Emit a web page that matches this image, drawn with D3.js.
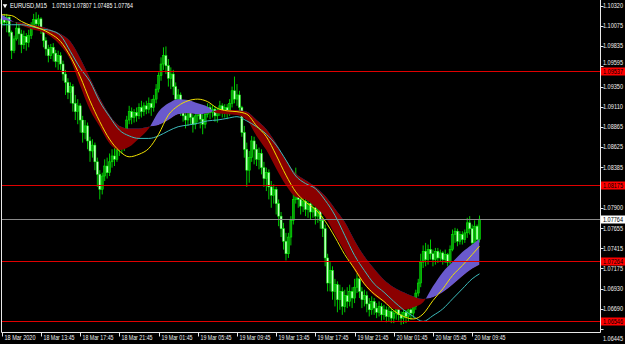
<!DOCTYPE html>
<html>
<head>
<meta charset="utf-8">
<script src="https://cdn.jsdelivr.net/npm/d3@7"></script>
<style>
  body { margin: 0; background: #000; }
  svg { display: block; font-family: "Liberation Sans", Arial, sans-serif; }
</style>
</head>
<body>
<svg id="chart" width="625" height="344"></svg>
<script>
// ---- data (EURUSD M15, 18 Mar 09:45 -> 20 Mar 10:30) ----
const symbolName = "EURUSD,M15"
const lastOHLC = "1.07519 1.07807 1.07485 1.07764"
const firstOpen = 1.1010
const closes = [
  1.1016,1.1012,1.1018,1.1000,1.0978,1.0992,1.1005,1.0998,1.0985,1.0995,1.0988,1.0996,1.1008,1.1015,1.1010,1.1016,
  1.1002,1.0990,1.0980,1.0972,1.0982,1.0975,1.0965,1.0972,1.0962,
  1.0950,1.0940,1.0928,1.0935,1.0915,1.0905,1.0912,1.0895,1.0880,1.0888,1.0870,1.0858,1.0865,1.0845,1.0830,1.0812,
  1.0828,1.0840,1.0832,1.0845,1.0852,1.0848,1.0860,1.0868,1.0862,1.0878,
  1.0895,1.0905,1.0898,1.0904,1.0900,1.0910,1.0905,1.0912,1.0908,1.0915,1.0910,1.0920,1.0932,
  1.0948,1.0962,1.0972,1.0960,1.0945,1.0950,1.0935,1.0920,1.0925,
  1.0912,1.0900,1.0895,1.0905,1.0898,1.0890,1.0900,1.0906,1.0896,1.0890,1.0902,1.0910,1.0904,1.0908,1.0900,1.0906,1.0912,1.0904,1.0910,1.0905,
  1.0915,1.0930,1.0920,1.0925,1.0910,
  1.0880,1.0860,1.0835,1.0850,1.0870,1.0860,1.0848,1.0855,1.0838,1.0825,1.0832,1.0815,1.0805,1.0812,1.0795,1.0780,
  1.0765,1.0750,1.0735,1.0755,1.0775,1.0800,1.0820,1.0800,
  1.0792,1.0798,1.0788,1.0795,1.0785,1.0790,1.0780,1.0788,1.0775,1.0765,
  1.0730,1.0700,1.0715,1.0690,1.0698,1.0680,1.0690,1.0672,1.0685,
  1.0678,1.0690,1.0682,1.0695,1.0705,1.0690,1.0680,1.0685,1.0675,1.0668,1.0678,1.0670,1.0665,
  1.0672,1.0662,1.0668,1.0660,1.0666,1.0658,1.0664,1.0670,1.0662,1.0658,1.0665,1.0660,1.0668,1.0664,1.0672,
  1.0688,1.0700,1.0725,1.0738,1.0728,1.0740,1.0735,
  1.0728,1.0738,1.0730,1.0736,1.0728,1.0734,1.0725,1.0740,
  1.0758,1.0762,1.0750,1.0758,1.0752,1.0760,1.0772,1.0765,1.0748,1.0768,1.07519,1.07764
]
const highs = [
  1.1020,1.1022,1.1022,1.1019,1.1002,1.0996,1.1012,1.1010,1.1003,1.1002,1.0999,1.1003,1.1012,1.1022,1.1024,1.1021,
  1.1018,1.1005,1.0994,1.0985,1.0986,1.0987,1.0979,1.0978,1.0976,
  1.0966,1.0955,1.0945,1.0940,1.0938,1.0925,1.0920,1.0915,1.0900,1.0895,1.0892,1.0875,1.0872,1.0868,1.0850,1.0835,
  1.0832,1.0848,1.0850,1.0855,1.0860,1.0862,1.0866,1.0874,1.0875,1.0882,
  1.0900,1.0912,1.0910,1.0908,1.0910,1.0915,1.0918,1.0916,1.0918,1.0922,1.0920,1.0925,1.0938,
  1.0952,1.0970,1.0982,1.0983,1.0968,1.0958,1.0955,1.0940,1.0932,
  1.0928,1.0915,1.0908,1.0910,1.0910,1.0902,1.0905,1.0912,1.0910,1.0902,1.0906,1.0915,1.0914,1.0913,1.0912,1.0910,1.0918,1.0915,1.0914,1.0914,
  1.0920,1.0935,1.0947,1.0938,1.0930,
  1.0912,1.0888,1.0868,1.0858,1.0876,1.0875,1.0866,1.0862,1.0860,1.0845,1.0838,1.0836,1.0822,1.0818,1.0815,1.0800,
  1.0785,1.0772,1.0760,1.0760,1.0780,1.0808,1.0838,1.0825,
  1.0805,1.0805,1.0802,1.0800,1.0800,1.0796,1.0795,1.0792,1.0790,1.0780,
  1.0770,1.0735,1.0725,1.0720,1.0705,1.0702,1.0698,1.0695,1.0692,
  1.0695,1.0698,1.0695,1.0705,1.0712,1.0708,1.0695,1.0692,1.0690,1.0682,1.0684,1.0682,1.0676,
  1.0678,1.0676,1.0674,1.0672,1.0672,1.0670,1.0668,1.0676,1.0674,1.0666,1.0670,1.0668,1.0672,1.0674,1.0678,
  1.0692,1.0705,1.0735,1.0745,1.0748,1.0746,1.0752,
  1.0740,1.0742,1.0742,1.0740,1.0738,1.0740,1.0736,1.0745,
  1.0764,1.0766,1.0765,1.0762,1.0762,1.0764,1.0778,1.0780,1.0770,1.0775,1.0770,1.07807
]
const lows = [
  1.1005,1.1008,1.1000,1.0995,1.0968,1.0975,1.0990,1.0985,1.0975,1.0980,1.0978,1.0982,1.0992,1.1004,1.1005,1.1006,
  1.0998,1.0982,1.0972,1.0964,1.0968,1.0965,1.0958,1.0955,1.0955,
  1.0942,1.0925,1.0920,1.0915,1.0905,1.0895,1.0890,1.0880,1.0868,1.0872,1.0860,1.0845,1.0850,1.0835,1.0815,1.0800,
  1.0806,1.0822,1.0825,1.0828,1.0838,1.0840,1.0845,1.0852,1.0855,1.0858,
  1.0872,1.0890,1.0890,1.0892,1.0893,1.0896,1.0898,1.0900,1.0902,1.0903,1.0900,1.0905,1.0915,
  1.0928,1.0942,1.0955,1.0950,1.0935,1.0932,1.0925,1.0912,1.0905,
  1.0900,1.0893,1.0885,1.0888,1.0890,1.0880,1.0884,1.0892,1.0885,1.0878,1.0885,1.0898,1.0896,1.0898,1.0893,1.0892,1.0900,1.0898,1.0898,1.0896,
  1.0900,1.0910,1.0915,1.0912,1.0905,
  1.0875,1.0850,1.0815,1.0820,1.0845,1.0842,1.0840,1.0836,1.0830,1.0815,1.0810,1.0800,1.0790,1.0795,1.0782,1.0768,
  1.0755,1.0740,1.0727,1.0730,1.0745,1.0770,1.0795,1.0790,
  1.0782,1.0785,1.0780,1.0778,1.0776,1.0778,1.0770,1.0772,1.0765,1.0755,
  1.0720,1.0690,1.0690,1.0680,1.0672,1.0665,1.0668,1.0662,1.0665,
  1.0670,1.0672,1.0670,1.0676,1.0688,1.0682,1.0670,1.0672,1.0665,1.0660,1.0662,1.0662,1.0658,
  1.0660,1.0655,1.0656,1.0653,1.0654,1.0652,1.0652,1.0656,1.0655,1.0650,1.0651,1.0652,1.0654,1.0656,1.0658,
  1.0668,1.0684,1.0695,1.0718,1.0720,1.0722,1.0728,
  1.0720,1.0722,1.0724,1.0725,1.0722,1.0724,1.0720,1.0722,
  1.0738,1.0748,1.0744,1.0746,1.0746,1.0748,1.0754,1.0758,1.0742,1.0745,1.0746,1.07485
]

// indicator values read every 4th bar (plus the last bar)
const sampleBars = d3.range(0, 193, 4).concat([195])
const maYellow = [
  1.1021,1.1020,1.1013,1.1008,1.1004,1.0998,1.0989,1.0971,1.0947,1.0918,1.0893,1.0872,1.0858,1.0851,1.0854,1.0861,
  1.0878,1.0901,1.0912,1.0918,1.0920,1.0917,1.0909,1.0906,1.0905,1.0902,1.0888,1.0875,1.0853,1.0829,1.0809,1.0797,
  1.0788,1.0774,1.0755,1.0734,1.0717,1.0699,1.0687,1.0678,1.0667,1.0660,1.0657,1.0663,1.0679,1.0693,1.0709,1.0721,
  1.0734,1.0744
]
const maCyan = [
  1.1009,1.1009,1.1009,1.1007,1.1004,1.1002,1.0996,1.0977,1.0957,1.0941,1.0917,1.0899,1.0883,1.0876,1.0873,1.0873,
  1.0876,1.0882,1.0887,1.0889,1.0891,1.0894,1.0895,1.0897,1.0899,1.0894,1.0887,1.0878,1.0865,1.0847,1.0828,1.0819,
  1.0813,1.0799,1.0781,1.0757,1.0733,1.0715,1.0699,1.0689,1.0678,1.0668,1.0660,1.0654,1.0661,1.0669,1.0681,1.0693,
  1.0705,1.0711
]
const ribbonFast = [
  1.1021,1.1014,1.1008,1.1004,1.1001,1.0995,1.0984,1.0967,1.0936,1.0907,1.0887,1.0867,1.0859,1.0863,1.0873,1.0885,
  1.0905,1.0915,1.0920,1.0919,1.0915,1.0911,1.0903,1.0902,1.0901,1.0895,1.0876,1.0859,1.0837,1.0817,1.0803,1.0800,
  1.0791,1.0779,1.0758,1.0737,1.0715,1.0698,1.0685,1.0677,1.0669,1.0668,1.0671,1.0677,1.0696,1.0713,1.0725,1.0737,
  1.0746,1.0753
]
const ribbonSlow = [
  1.1015,1.1013,1.1011,1.1009,1.1007,1.1003,1.0998,1.0989,1.0969,1.0945,1.0921,1.0901,1.0888,1.0885,1.0885,1.0887,
  1.0889,1.0895,1.0902,1.0903,1.0902,1.0903,1.0907,1.0907,1.0907,1.0905,1.0895,1.0884,1.0867,1.0847,1.0831,1.0823,
  1.0815,1.0804,1.0789,1.0773,1.0751,1.0732,1.0717,1.0704,1.0695,1.0689,1.0684,1.0681,1.0683,1.0689,1.0698,1.0708,
  1.0717,1.0722
]

const priceTicks = [1.10320,1.10075,1.09835,1.09595,1.09350,1.09110,1.08865,1.08625,1.08385,
  1.07900,1.07655,1.07415,1.07175,1.06930,1.06690,1.06445]
const levelLines = [1.09537, 1.08175, 1.07264, 1.06546]
const currentPrice = 1.07764
const timeTickBars = d3.range(0, 193, 16)
const timeLabels = ["18 Mar 2020","18 Mar 13:45","18 Mar 17:45","18 Mar 21:45","19 Mar 01:45","19 Mar 05:45",
  "19 Mar 09:45","19 Mar 13:45","19 Mar 17:45","19 Mar 21:45","20 Mar 01:45","20 Mar 05:45","20 Mar 09:45"]

// ---- layout ----
const svg = d3.select("#chart")
const plotRight = 600.5, plotBottom = 332.5, plotLeft = 1.5
const x = d3.scaleLinear().domain([0, 195]).range([1.8, 479.5])
const y = d3.scaleLinear().domain([1.06414, 1.10386]).range([332, 0])
const fmt = d3.format(".5f")

svg.append("rect").attr("width", 625).attr("height", 344).attr("fill", "#000")

//----------------------------------------------------------- candles
const bars = closes.map((c, i) => ({ i, o: i ? closes[i - 1] : firstOpen, h: highs[i], l: lows[i], c }))
const candles = svg.append("g").attr("class", "candles")
candles.selectAll("line").data(bars).join("line")
  .attr("x1", d => x(d.i)).attr("x2", d => x(d.i))
  .attr("y1", d => y(d.h)).attr("y2", d => y(d.l))
  .attr("stroke", "#00ff00").attr("stroke-width", 0.8)
candles.selectAll("rect").data(bars).join("rect")
  .attr("x", d => x(d.i) - 1).attr("width", 2)
  .attr("y", d => y(Math.max(d.o, d.c)))
  .attr("height", d => Math.max(0.8, Math.abs(y(d.o) - y(d.c))))
  .attr("fill", d => d.c >= d.o ? "#0a9a0a" : "#c8ffc8")
  .attr("stroke", "#00ff00").attr("stroke-width", 0.5)

//----------------------------------------------------------- ribbon (difference area)
const rib = sampleBars.map((b, k) => ({ b, f: ribbonFast[k], s: ribbonSlow[k] }))
const curve = d3.curveMonotoneX
const defs = svg.append("defs")
defs.append("clipPath").attr("id", "belowSlow").append("path")
  .attr("d", d3.area().curve(curve).x(d => x(d.b)).y0(plotBottom).y1(d => y(d.s))(rib))
defs.append("clipPath").attr("id", "aboveSlow").append("path")
  .attr("d", d3.area().curve(curve).x(d => x(d.b)).y0(0).y1(d => y(d.s))(rib))
const band = d3.area().curve(curve).x(d => x(d.b)).y0(d => y(d.f)).y1(d => y(d.s))
svg.append("path").attr("d", band(rib)).attr("fill", "#8b0000").attr("clip-path", "url(#belowSlow)")
svg.append("path").attr("d", band(rib)).attr("fill", "#6a5acd").attr("clip-path", "url(#aboveSlow)")

//----------------------------------------------------------- moving averages
const maLine = vals => d3.line().curve(curve).x((d, k) => x(sampleBars[k])).y(d => y(d))(vals)
svg.append("path").attr("d", maLine(maCyan)).attr("fill", "none").attr("stroke", "#3cbcbc").attr("stroke-width", 1)
svg.append("path").attr("d", maLine(maYellow)).attr("fill", "none").attr("stroke", "#f0e000").attr("stroke-width", 1)

//----------------------------------------------------------- horizontal levels
svg.selectAll(".level").data(levelLines).join("line").attr("class", "level")
  .attr("x1", plotLeft).attr("x2", plotRight)
  .attr("y1", d => Math.round(y(d)) + 0.5).attr("y2", d => Math.round(y(d)) + 0.5)
  .attr("stroke", "#e00000").attr("stroke-width", 1)
svg.append("line").attr("x1", plotLeft).attr("x2", plotRight)
  .attr("y1", Math.round(y(currentPrice)) + 0.5).attr("y2", Math.round(y(currentPrice)) + 0.5)
  .attr("stroke", "#8a8a8a").attr("stroke-width", 1)

//----------------------------------------------------------- frame
svg.append("path")
  .attr("d", `M${plotLeft},0V${plotBottom}H${plotRight}V0`)
  .attr("fill", "none").attr("stroke", "#e8e8e8").attr("stroke-width", 1)

//----------------------------------------------------------- price axis
const tagValues = levelLines.concat([currentPrice])
// a tick label that would sit under a price tag is nudged just clear of it
const tickY = v => {
  let p = y(v)
  if (p > plotBottom - 6) return plotBottom + 6
  tagValues.forEach(t => {
    const ty = y(t)
    if (Math.abs(p - ty) < 8) p = p < ty ? ty - 8 : ty + 8
  })
  return p
}
svg.selectAll(".ptick").data(priceTicks).join("line").attr("class", "ptick")
  .attr("x1", plotRight).attr("x2", plotRight + 3)
  .attr("y1", d => Math.round(y(d)) + 0.5).attr("y2", d => Math.round(y(d)) + 0.5)
  .attr("stroke", "#e8e8e8")
svg.selectAll(".plabel").data(priceTicks).join("text").attr("class", "plabel")
  .attr("x", 603).attr("y", d => tickY(d) + 2.3)
  .attr("font-size", 6.3).attr("fill", "#f0f0f0")
  .attr("textLength", 20).attr("lengthAdjust", "spacingAndGlyphs")
  .text(d => fmt(d))

const tags = levelLines.map(v => ({ v, bg: "#ff0000" })).concat([{ v: currentPrice, bg: "#ffffff" }])
const tag = svg.selectAll(".tag").data(tags).join("g").attr("class", "tag")
  .attr("transform", d => `translate(601,${Math.round(y(d.v))})`)
tag.append("rect").attr("x", 0).attr("y", -3.5).attr("width", 24).attr("height", 8).attr("fill", d => d.bg)
tag.append("text").attr("x", 2).attr("y", 2.6).attr("font-size", 6.3).attr("fill", "#000")
  .attr("textLength", 20).attr("lengthAdjust", "spacingAndGlyphs")
  .text(d => fmt(d.v))

//----------------------------------------------------------- time axis
svg.selectAll(".ttick").data(timeTickBars).join("line").attr("class", "ttick")
  .attr("x1", d => Math.round(x(d)) + 0.5).attr("x2", d => Math.round(x(d)) + 0.5)
  .attr("y1", plotBottom).attr("y2", plotBottom + 4)
  .attr("stroke", "#e8e8e8")
svg.selectAll(".tlabel").data(timeTickBars).join("text").attr("class", "tlabel")
  .attr("x", d => Math.round(x(d)) + 2.5).attr("y", 340)
  .attr("font-size", 6.5).attr("fill", "#f0f0f0")
  .attr("textLength", 31).attr("lengthAdjust", "spacingAndGlyphs")
  .text((d, k) => timeLabels[k])

//----------------------------------------------------------- title
svg.append("path").attr("d", d3.symbol(d3.symbolTriangle, 9)())
  .attr("transform", "translate(5,5.5) rotate(180)").attr("fill", "#fff")
svg.append("text").attr("x", 10).attr("y", 8).attr("font-size", 6.5).attr("fill", "#fff")
  .attr("textLength", 37).attr("lengthAdjust", "spacingAndGlyphs").text(symbolName)
svg.append("text").attr("x", 52).attr("y", 8).attr("font-size", 6.5).attr("fill", "#fff")
  .attr("textLength", 81).attr("lengthAdjust", "spacingAndGlyphs").text(lastOHLC)
</script>
</body>
</html>
